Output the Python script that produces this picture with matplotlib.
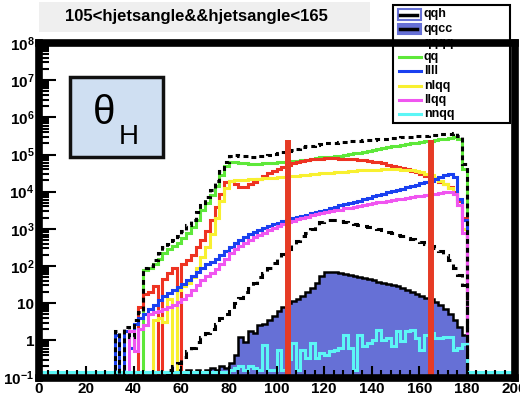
import numpy as np
import matplotlib.pyplot as plt
from matplotlib.patches import Rectangle
from matplotlib.lines import Line2D
from matplotlib.ticker import LogLocator, NullFormatter

plt.rcParams['font.family'] = ['Liberation Sans', 'DejaVu Sans']
plt.rcParams['mathtext.fontset'] = 'custom'
plt.rcParams['mathtext.rm'] = 'Liberation Sans:bold'
plt.rcParams['mathtext.bf'] = 'Liberation Sans:bold'
plt.rcParams['mathtext.it'] = 'Liberation Sans:bold'

# bin edges: one wide empty bin each side, 2 degree bins in between
edges = np.array([0] + list(range(32, 182, 2)) + [200])

# log10 of bin contents (-3 = empty bin)
total_log = [-3,
    0.25, -3, 0.35, 0.1, 0.55, 0.75, 1.95, 2.0, 2.15, 2.35,
    2.5, 2.6, 2.7, 2.8, 2.95, 3.1, 3.25, 3.45, 3.65, 3.85,
    4.05, 4.3, 4.55, 4.8, 4.97, 5.0, 4.97, 4.95, 4.94, 4.94,
    4.95, 4.97, 4.99, 5.01, 5.04, 5.07, 5.1, 5.13, 5.16, 5.2,
    5.22, 5.24, 5.26, 5.28, 5.3, 5.31, 5.32, 5.33, 5.34, 5.35,
    5.36, 5.37, 5.38, 5.39, 5.4, 5.41, 5.42, 5.43, 5.44, 5.45,
    5.46, 5.47, 5.48, 5.49, 5.5, 5.51, 5.52, 5.53, 5.54, 5.55,
    5.56, 5.57, 5.5, 4.75,
    -3]
qq_log = [-3,
    -3, -3, -3, -3, -3, -3, 1.9, 1.95, 2.05, 2.2,
    2.35, 2.45, 2.55, 2.62, 2.75, 2.9, 3.05, 3.25, 3.5, 3.7,
    3.9, 4.15, 4.45, 4.7, 4.8, 4.8, 4.78, 4.76, 4.75, 4.75,
    4.75, 4.76, 4.77, 4.78, 4.79, 4.8, 4.81, 4.82, 4.83, 4.85,
    4.86, 4.88, 4.9, 4.92, 4.93, 4.94, 4.95, 4.97, 4.99, 5.01,
    5.03, 5.05, 5.08, 5.1, 5.13, 5.15, 5.18, 5.2, 5.22, 5.24,
    5.26, 5.28, 5.3, 5.32, 5.33, 5.35, 5.37, 5.39, 5.41, 5.43,
    5.45, 5.47, 5.42, 4.6,
    -3]
qqqq_log = [-3,
    -3, -3, -3, -3, -3, 0.9, 1.25, 1.3, 1.45, -3,
    1.65, 1.8, 1.95, -3, 2.05, 2.15, 2.3, 2.5, 2.7, 2.95,
    3.25, 3.6, 3.95, 4.25, 4.28, 4.2, 4.13, 4.13, 4.2, 4.27,
    4.35, 4.42, 4.5, 4.56, 4.62, 4.67, 4.72, 4.76, 4.8, 4.83,
    4.85, 4.87, 4.88, 4.89, 4.9, 4.9, 4.9, 4.89, 4.88, 4.88,
    4.87, 4.86, 4.85, 4.83, 4.81, 4.79, 4.76, 4.73, 4.7, 4.67,
    4.63, 4.6, 4.56, 4.52, 4.48, 4.43, 4.38, 4.33, 4.27, 4.2,
    4.12, 4.0, 3.75, 3.3,
    -3]
llll_log = [-3,
    0.15, -3, 0.25, -0.2, 0.45, 0.6, 0.72, 0.85, 0.95, 1.08,
    1.2, 1.28, 1.36, 1.44, 1.52, 1.62, 1.72, 1.85, 1.95, 2.05,
    2.12, 2.2, 2.3, 2.4, 2.52, 2.62, 2.7, 2.78, 2.85, 2.92,
    2.97, 3.02, 3.07, 3.12, 3.16, 3.2, 3.24, 3.28, 3.31, 3.35,
    3.38, 3.42, 3.45, 3.49, 3.52, 3.56, 3.6, 3.63, 3.66, 3.7,
    3.73, 3.76, 3.8, 3.83, 3.87, 3.9, 3.94, 3.98, 4.01, 4.05,
    4.08, 4.12, 4.15, 4.19, 4.22, 4.26, 4.3, 4.35, 4.4, 4.45,
    4.47, 4.4, 3.8, 3.25,
    -3]
llqq_log = [-3,
    -3, -3, -3, 0.25, -0.3, 0.3, 0.4, 0.7, 0.75, 0.8,
    0.85, 0.9, 0.95, 1.02, 1.12, 1.22, 1.35, 1.5, 1.62, 1.72,
    1.82, 1.92, 2.05, 2.2, 2.35, 2.45, 2.55, 2.63, 2.7, 2.77,
    2.84, 2.9, 2.96, 3.02, 3.08, 3.13, 3.18, 3.22, 3.26, 3.3,
    3.33, 3.36, 3.39, 3.42, 3.45, 3.47, 3.5, 3.52, 3.55, 3.57,
    3.6, 3.62, 3.64, 3.67, 3.69, 3.71, 3.73, 3.75, 3.77, 3.79,
    3.81, 3.83, 3.85, 3.87, 3.89, 3.91, 3.93, 3.95, 3.97, 3.99,
    4.0, 3.95, 3.65, 2.9,
    -3]
nlqq_log = [-3,
    -3, -3, -3, -3, -3, -3, -3, -3, 0.55, 0.6,
    0.5, 1.1, -3, 1.35, 1.45, 1.55, 1.7, 1.95, 2.25, 2.5,
    2.85, 3.3, 3.75, 4.1, 4.28, 4.32, 4.32, 4.32, 4.33, 4.34,
    4.35, 4.36, 4.37, 4.38, 4.39, 4.4, 4.41, 4.42, 4.43, 4.44,
    4.46, 4.47, 4.48, 4.49, 4.5, 4.51, 4.52, 4.53, 4.54, 4.55,
    4.56, 4.57, 4.58, 4.58, 4.59, 4.59, 4.6, 4.6, 4.6, 4.6,
    4.59, 4.58, 4.57, 4.55, 4.52, 4.48, 4.44, 4.38, 4.3, 4.2,
    4.1, 3.95, 3.65, 3.0,
    -3]
qqh_log = [-3,
    -3, -3, -3, -3, -3, -3, -3, -3, -3, -3,
    -3, -0.8, -0.7, -0.6, -0.45, -0.3, -0.2, -0.05, 0.1, 0.2,
    0.3, 0.45, 0.6, 0.72, 0.85, 1.0, 1.15, 1.3, 1.42, 1.55,
    1.7, 1.82, 1.95, 2.08, 2.2, 2.32, 2.45, 2.57, 2.68, 2.8,
    2.9, 3.0, 3.1, 3.18, 3.23, 3.24, 3.23, 3.21, 3.19, 3.17,
    3.14, 3.11, 3.08, 3.05, 3.02, 3.0, 2.96, 2.92, 2.88, 2.84,
    2.8, 2.76, 2.72, 2.68, 2.64, 2.6, 2.55, 2.48, 2.4, 2.3,
    2.15, 1.95, 1.75, 1.5,
    -3]
qqcc_log = [-3,
    -3, -3, -3, -3, -3, -3, -3, -3, -3, -3,
    -3, -0.9, -3, -0.8, -0.9, -0.8, -0.85, -0.8, -0.85, -0.8,
    -0.75, -0.8, -0.7, -0.75, -0.6, -0.4, 0.1, -0.05, 0.25, 0.2,
    0.4, 0.45, 0.55, 0.65, 0.8, 0.9, 1.0, 1.05, 1.1, 1.2,
    1.3, 1.42, 1.55, 1.72, 1.83, 1.84, 1.83, 1.81, 1.79, 1.77,
    1.74, 1.71, 1.68, 1.65, 1.62, 1.58, 1.55, 1.52, 1.48, 1.45,
    1.42, 1.36, 1.3, 1.25, 1.2, 1.15, 1.1, 1.02, 0.95, 0.85,
    0.72, 0.55, 0.35, 0.15,
    -3]
nnqq_log = [-0.85,
    -0.85, -0.85, -0.85, -0.85, -0.85, -0.85, -0.85, -0.85, -0.85, -0.85,
    -0.85, -0.85, -0.85, -0.85, -0.85, -0.85, -0.85, -0.85, -0.85, -0.85,
    -0.85, -0.85, -0.85, -0.85, -0.79, -0.75, -0.7, -0.79, -0.7, -0.75,
    -0.8, -0.12, -0.79, -0.79, -0.25, -0.79, -0.5, -0.07, -0.79, -0.25,
    -0.48, -0.07, -0.48, -0.34, -0.39, -0.3, -0.25, -0.21, 0.15, -0.2,
    -0.79, 0.15, -0.16, -0.07, 0.0, 0.28, 0.02, 0.06, -0.16, 0.24,
    -0.03, 0.24, 0.28, 0.06, -0.25, 0.15, 0.2, 0.05, 0.05, 0.1,
    0.1, -0.25, -0.2, -0.1,
    -0.85]

cuts = [105, 165]
cut_top = 2.4e5

leg_labels = ['qqh', 'qqcc', 'qqqq', 'qq', 'llll', 'nlqq', 'llqq', 'nnqq']
leg_colors = ['black', 'black', '#ee3322', '#5ee83a', '#1a40f0', '#f8f030', '#f055f0', '#5cf6f6']
fill_blue = '#6670d6'

W, H = 520, 395


def fx(x):
    return x / W


def fy(y):
    return 1 - y / H


def counts(logs):
    return 10.0 ** np.array(logs)


fig = plt.figure(figsize=(5.2, 3.95), dpi=100)
fig.patch.set_facecolor('white')
ax = fig.add_axes([fx(38.5), fy(377.5), (514.5 - 38.5) / W, (377.5 - 43) / H], zorder=3)
ax.set_facecolor('none')

# qqcc filled
ax.stairs(counts(qqcc_log), edges, fill=True, color=fill_blue, baseline=1e-3, zorder=1)
ax.stairs(counts(qqcc_log), edges, color='black', lw=1.8, baseline=None, zorder=1.1)

lines = [(qq_log, leg_colors[3]), (qqqq_log, leg_colors[2]), (nlqq_log, leg_colors[5]),
         (llll_log, leg_colors[4]), (llqq_log, leg_colors[6]), (nnqq_log, leg_colors[7])]
for i, (vals, col) in enumerate(lines):
    ax.stairs(counts(vals), edges, color=col, lw=2.2, baseline=None, zorder=1.2 + 0.05 * i)

ax.stairs(counts(qqh_log), edges, color='black', lw=2.2, ls=(0, (2.6, 2.0)),
          baseline=None, zorder=1.6)
ax.stairs(counts(total_log), edges, color='black', lw=2.2, ls=(0, (1.6, 1.3)),
          baseline=None, zorder=1.7)

ax.vlines(cuts, 1e-3, cut_top, color='#e63b25', lw=4.3, zorder=2)

ax.set_yscale('log')
ax.set_xlim(0, 200)
ax.set_ylim(0.1, 1e8)

yt = 10.0 ** np.arange(-1, 9)
ylab = [r'$\mathbf{10^{-1}}$', '1', '10'] + [r'$\mathbf{10^{%d}}$' % k for k in range(2, 9)]
ax.set_yticks(yt, ylab)
ax.yaxis.set_minor_locator(LogLocator(base=10, subs=range(2, 10), numticks=20))
ax.yaxis.set_minor_formatter(NullFormatter())
ax.set_xticks(range(0, 201, 20))
ax.set_xticks(range(0, 201, 4), minor=True)

ax.tick_params(which='both', direction='in', top=False, right=False, width=1.5,
               labelsize=11, pad=3)
ax.tick_params(axis='y', which='major', length=12)
ax.tick_params(axis='y', which='minor', length=7)
ax.tick_params(axis='x', which='major', length=9)
ax.tick_params(axis='x', which='minor', length=6)
for t in ax.get_xticklabels() + ax.get_yticklabels():
    t.set_fontweight('bold')

for s in ax.spines.values():
    s.set_linewidth(5.5)
    s.set_capstyle('projecting')

# title box
fig.add_artist(Rectangle((fx(39), fy(32)), (370 - 39) / W, 30 / H, transform=fig.transFigure,
                         fc='#efefef', ec='none', zorder=1))
fig.text(fx(65), fy(17), '105<hjetsangle&&hjetsangle<165', fontsize=12,
         fontweight='bold', ha='left', va='center', zorder=1.2)

# legend (below the axes so the frame covers it)
fig.add_artist(Rectangle((fx(393), fy(123)), (510 - 393) / W, (123 - 5) / H,
                         transform=fig.transFigure, fc='white', ec='black', lw=1.5, zorder=1.5))
for i, (lab, col) in enumerate(zip(leg_labels, leg_colors)):
    yy = 14.5 + 14.2 * i
    if i < 2:
        fc = 'white' if i == 0 else fill_blue
        fig.add_artist(Rectangle((fx(398), fy(yy + 5)), 23 / W, 10 / H, transform=fig.transFigure,
                                 fc=fc, ec=fill_blue, lw=1.5, zorder=1.6))
        fig.add_artist(Line2D([fx(400), fx(417)], [fy(yy), fy(yy)], transform=fig.transFigure,
                              color='black', lw=2.5, zorder=1.7))
    else:
        fig.add_artist(Line2D([fx(399), fx(421)], [fy(yy), fy(yy)], transform=fig.transFigure,
                              color=col, lw=2.2, zorder=1.7))
    fig.text(fx(424), fy(yy), lab, fontsize=9, fontweight='bold', ha='left', va='center',
             zorder=1.8)

# theta_H label box
fig.add_artist(Rectangle((fx(70), fy(157)), 93 / W, 80 / H, transform=fig.transFigure,
                         fc='#cfdff2', ec='#111111', lw=2.5, zorder=4))
fig.text(fx(104), fy(113), 'θ', fontsize=29, ha='center', va='center', zorder=5)
fig.text(fx(129), fy(137), 'H', fontsize=20, ha='center', va='center', zorder=5)

fig.savefig('out.png', dpi=100)
